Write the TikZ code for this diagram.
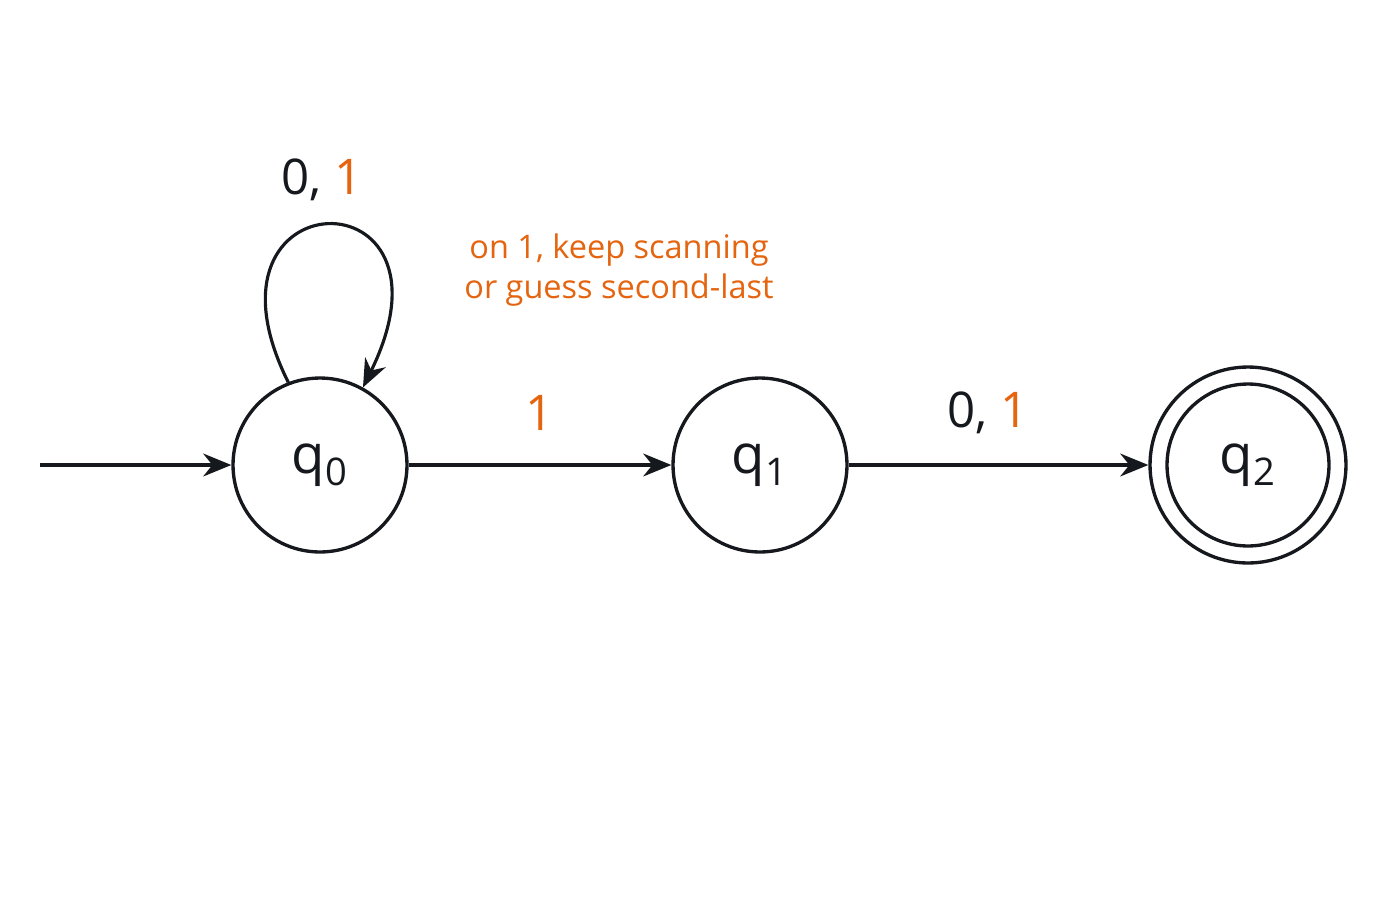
\documentclass[tikz,border=0pt]{standalone}
\usepackage{fontspec}
\setmainfont{Open Sans}
\usetikzlibrary{arrows.meta}
\definecolor{org}{HTML}{E4640F}
\definecolor{ink}{HTML}{15181C}
\begin{document}
\begin{tikzpicture}[x=0.02cm,y=-0.02cm,
  st/.style={circle,draw=ink,line width=1.9pt,minimum size=3.48cm,inner sep=0pt,font=\fontsize{31}{34}\selectfont,text=ink},
  ar/.style={draw=ink,line width=1.8pt,-{Stealth[length=16pt,width=13pt]}},
  lab/.style={font=\fontsize{28}{30}\selectfont,text=ink},
  note/.style={font=\fontsize{18.5}{23}\selectfont,text=org,align=center}]
\useasboundingbox (0,0) rectangle (1400,900);
\node[st] (q0) at (320,465) {q\textsubscript{0}};
\node[st] (q1) at (760,465) {q\textsubscript{1}};
\node[st,minimum size=3.92cm] (q2) at (1248,465) {};
\node[st,minimum size=3.24cm] (q2i) at (1248,465) {q\textsubscript{2}};
\coordinate (s) at (40,465);
\draw[ar] (s) -- (q0);
\draw[ar] (q0) -- (q1);
\draw[ar] (q1) -- (q2);
\draw[ar] (q0.111) .. controls (185,175) and (470,170) .. (q0.61);
\node[lab] (l0) at (322,180) {0, \textcolor{org}{1}};
\node[lab] (l1) at (540,413) {\textcolor{org}{1}};
\node[lab] (l2) at (988,413) {0, \textcolor{org}{1}};
\node[note] (n) at (619,270) {on 1, keep scanning\\or guess second-last};
\end{tikzpicture}
\end{document}
